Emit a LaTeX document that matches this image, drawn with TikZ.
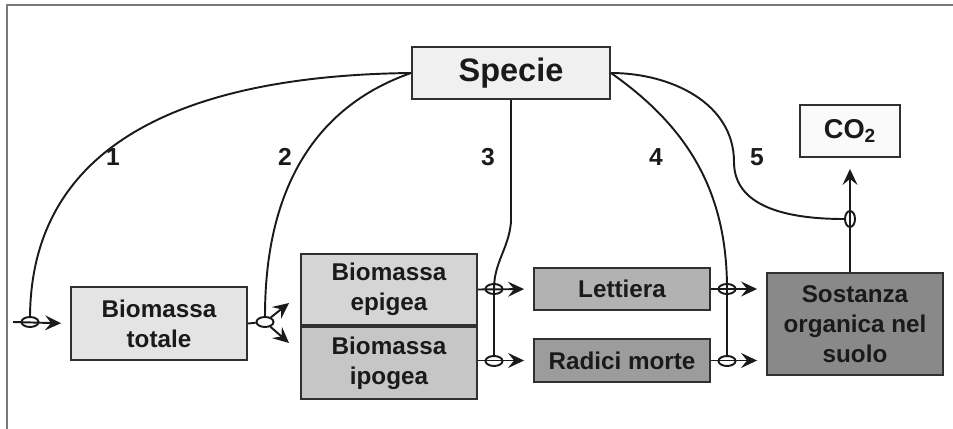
\documentclass[tikz,border=0pt]{standalone}
\usepackage{fontspec}
\setmainfont{Liberation Sans}
\usetikzlibrary{arrows.meta,shapes.geometric}
\definecolor{ink}{HTML}{1A1A1A}
\definecolor{framegray}{HTML}{7A7A7A}
\definecolor{boxline}{HTML}{303030}
\definecolor{speciebg}{HTML}{F0F0F0}
\definecolor{co2bg}{HTML}{FAFAFA}
\definecolor{totbg}{HTML}{E4E4E4}
\definecolor{epibg}{HTML}{D5D5D5}
\definecolor{ipobg}{HTML}{C6C6C6}
\definecolor{lettbg}{HTML}{B2B2B2}
\definecolor{radbg}{HTML}{9C9C9C}
\definecolor{sombg}{HTML}{898989}
\tikzset{
  flowarr/.style={-{Stealth[length=0.32cm,width=0.3cm,inset=0.12cm]},line width=1.1pt,color=ink},
  linkline/.style={line width=1.1pt,color=ink},
  poolbox/.style={draw=boxline,line width=1.1pt,align=center,inner sep=0pt,minimum width=3.52cm,text=ink,font=\fontsize{13.8}{17}\selectfont\bfseries},
  valve/.style={ellipse,draw=ink,line width=1.1pt,minimum width=0.34cm,minimum height=0.2cm,inner sep=0pt},
  valvetall/.style={valve,minimum width=0.2cm,minimum height=0.32cm},
  numlabel/.style={font=\fontsize{14}{16}\selectfont\bfseries,text=ink}
}
\begin{document}
\begin{tikzpicture}[x=0.02cm,y=0.02cm]
  \useasboundingbox (0,0) rectangle (953,-429);
  \draw[framegray,line width=1.1pt] (7,-429) -- (7,-5) -- (953,-5);
  % boxes
  \node[poolbox,fill=speciebg,minimum width=3.96cm,minimum height=1.04cm,font=\fontsize{18.5}{20}\selectfont\bfseries] (spe) at (511,-73) {Specie};
  \node[poolbox,fill=co2bg,minimum width=2cm,minimum height=1.04cm,font=\fontsize{15.5}{18}\selectfont\bfseries] (co2) at (850,-131) {CO\textsubscript{2}};
  \node[poolbox,fill=totbg,minimum height=1.46cm] (tot) at (159,-323.5) {Biomassa\\totale};
  \node[poolbox,fill=epibg,minimum height=1.42cm] (epi) at (389,-289.5) {Biomassa\\epigea};
  \node[poolbox,fill=ipobg,minimum height=1.44cm,anchor=north] (ipo) at (epi.south) {Biomassa\\ipogea};
  \node[poolbox,fill=lettbg,minimum height=0.84cm] (let) at (622,-289) {Lettiera};
  \node[poolbox,fill=radbg,minimum height=0.86cm] (rad) at (622,-360.5) {Radici morte};
  \node[poolbox,fill=sombg,minimum height=2.04cm] (som) at (855,-324) {Sostanza\\organica nel\\suolo};
  % valves
  \node[valve] (v1) at (30,-322) {};
  \node[valve] (v2) at (265,-322) {};
  \node[valve] (ve) at (494,-289) {};
  \node[valve] (vi) at (494,-361) {};
  \node[valve] (vl) at (727,-289) {};
  \node[valve] (vr) at (727,-361) {};
  \node[valvetall] (vc) at (850,-219) {};
  \coordinate (in) at (13,-322);
  \coordinate (s1) at (289,-303);
  \coordinate (s2) at (289,-343);
  \coordinate (k5) at (734,-162);
  % flows
  \draw[flowarr,shorten >=0.18cm] (in) -- (tot.west);
  \draw[linkline] (tot.east) -- (v2);
  \draw[flowarr] (v2) -- (s1);
  \draw[flowarr] (v2) -- (s2);
  \draw[flowarr,shorten >=0.18cm] (epi.east) -- (let.west);
  \draw[flowarr,shorten >=0.18cm] (ipo.east |- rad.west) -- (rad.west);
  \draw[flowarr,shorten >=0.18cm] (let.east) -- (som.west |- let.east);
  \draw[flowarr,shorten >=0.18cm] (rad.east) -- (som.west |- rad.east);
  \draw[flowarr,shorten >=0.22cm] (co2.south |- som.north) -- (co2.south);
  % species effects
  \draw[linkline] (spe.west) .. controls (230,-75) and (32,-120) .. (v1.north);
  \draw[linkline] (spe.west) .. controls (322,-104) and (265,-180) .. (v2.north);
  \draw[linkline] (spe.south) -- ++(0,-122) to[out=-95,in=90] (ve.center) -- (vi.north);
  \draw[linkline] (spe.east) to[out=-35,in=90] (vl.center) -- (vr.north);
  \draw[linkline] (spe.east) to[out=0,in=90] (k5) to[out=-90,in=180] (vc.west);
  % labels
  \node[numlabel] (n1) at (113,-157) {1};
  \node[numlabel] (n2) at (285,-157) {2};
  \node[numlabel] (n3) at (488,-157) {3};
  \node[numlabel] (n4) at (656,-157) {4};
  \node[numlabel] (n5) at (757,-157) {5};
\end{tikzpicture}
\end{document}
